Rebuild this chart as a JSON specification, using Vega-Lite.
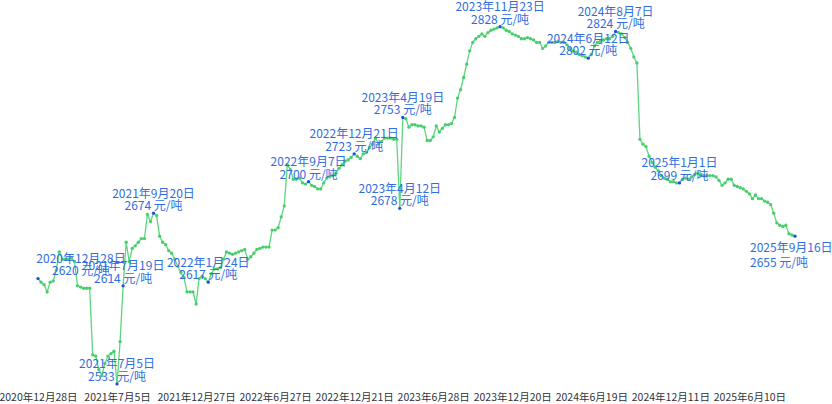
{
  "$schema": "https://vega.github.io/schema/vega-lite/v6.json",
  "width": 757,
  "height": 390,
  "autosize": {"type": "none"},
  "padding": {"left": 38, "top": 0, "right": 37, "bottom": 14},
  "background": "white",
  "config": {"view": {"stroke": null}, "font": "Noto Sans CJK SC"},
  "data": {"values": [
    {"d":"2020年12月28日","v":2620,"m":1},{"d":"2021年1月4日","v":2617},{"d":"2021年1月11日","v":2615},{"d":"2021年1月18日","v":2609},{"d":"2021年1月25日","v":2617},{"d":"2021年2月1日","v":2618},{"d":"2021年2月8日","v":2627},{"d":"2021年2月22日","v":2642},{"d":"2021年3月1日","v":2636},{"d":"2021年3月8日","v":2636},
    {"d":"2021年3月15日","v":2636},{"d":"2021年3月22日","v":2637},{"d":"2021年3月29日","v":2634},{"d":"2021年4月5日","v":2614},{"d":"2021年4月12日","v":2613},{"d":"2021年4月19日","v":2612},{"d":"2021年4月26日","v":2612},{"d":"2021年5月3日","v":2612},{"d":"2021年5月10日","v":2557},{"d":"2021年5月17日","v":2556},
    {"d":"2021年5月24日","v":2545},{"d":"2021年5月31日","v":2540},{"d":"2021年6月7日","v":2550},{"d":"2021年6月14日","v":2556},{"d":"2021年6月21日","v":2558},{"d":"2021年6月28日","v":2560},{"d":"2021年7月5日","v":2533,"m":1},{"d":"2021年7月12日","v":2568},{"d":"2021年7月19日","v":2614,"m":1},{"d":"2021年7月26日","v":2650},
    {"d":"2021年8月2日","v":2634},{"d":"2021年8月9日","v":2645},{"d":"2021年8月16日","v":2647},{"d":"2021年8月23日","v":2650},{"d":"2021年8月30日","v":2653},{"d":"2021年9月6日","v":2653},{"d":"2021年9月13日","v":2673},{"d":"2021年9月16日","v":2667},{"d":"2021年9月20日","v":2674,"m":1},{"d":"2021年9月27日","v":2672},
    {"d":"2021年10月4日","v":2655},{"d":"2021年10月11日","v":2650},{"d":"2021年10月18日","v":2648},{"d":"2021年10月25日","v":2643},{"d":"2021年11月1日","v":2641},{"d":"2021年11月8日","v":2636},{"d":"2021年11月15日","v":2630},{"d":"2021年11月22日","v":2625},{"d":"2021年11月29日","v":2621},{"d":"2021年12月6日","v":2609},
    {"d":"2021年12月13日","v":2609},{"d":"2021年12月20日","v":2609},{"d":"2021年12月27日","v":2599},{"d":"2022年1月3日","v":2620},{"d":"2022年1月10日","v":2622},{"d":"2022年1月17日","v":2620},{"d":"2022年1月24日","v":2617,"m":1},{"d":"2022年1月31日","v":2624},{"d":"2022年2月7日","v":2628},{"d":"2022年2月14日","v":2628},
    {"d":"2022年2月21日","v":2629},{"d":"2022年2月28日","v":2636},{"d":"2022年3月7日","v":2642},{"d":"2022年3月14日","v":2641},{"d":"2022年3月21日","v":2640},{"d":"2022年3月28日","v":2641},{"d":"2022年4月4日","v":2642},{"d":"2022年4月11日","v":2643},{"d":"2022年4月18日","v":2644},{"d":"2022年4月25日","v":2636},
    {"d":"2022年5月2日","v":2638},{"d":"2022年5月9日","v":2641},{"d":"2022年5月16日","v":2644},{"d":"2022年5月23日","v":2645},{"d":"2022年5月30日","v":2646},{"d":"2022年6月6日","v":2646},{"d":"2022年6月13日","v":2646},{"d":"2022年6月20日","v":2660},{"d":"2022年6月27日","v":2660},{"d":"2022年7月4日","v":2662},
    {"d":"2022年7月11日","v":2671},{"d":"2022年7月18日","v":2680},{"d":"2022年7月25日","v":2714},{"d":"2022年8月1日","v":2710},{"d":"2022年8月8日","v":2702},{"d":"2022年8月15日","v":2702},{"d":"2022年8月22日","v":2703},{"d":"2022年8月29日","v":2699},{"d":"2022年8月31日","v":2698},{"d":"2022年9月7日","v":2700,"m":1},
    {"d":"2022年9月14日","v":2697},{"d":"2022年9月21日","v":2696},{"d":"2022年9月28日","v":2694},{"d":"2022年10月5日","v":2694},{"d":"2022年10月12日","v":2699},{"d":"2022年10月19日","v":2703},{"d":"2022年10月26日","v":2704},{"d":"2022年11月2日","v":2705},{"d":"2022年11月9日","v":2707},{"d":"2022年11月16日","v":2711},
    {"d":"2022年11月23日","v":2714},{"d":"2022年11月30日","v":2717},{"d":"2022年12月7日","v":2718},{"d":"2022年12月14日","v":2720},{"d":"2022年12月21日","v":2723,"m":1},{"d":"2022年12月28日","v":2721},{"d":"2023年1月4日","v":2719},{"d":"2023年1月11日","v":2723},{"d":"2023年1月18日","v":2724},{"d":"2023年2月1日","v":2728},
    {"d":"2023年2月8日","v":2731},{"d":"2023年2月15日","v":2736},{"d":"2023年2月22日","v":2731},{"d":"2023年3月1日","v":2733},{"d":"2023年3月8日","v":2736},{"d":"2023年3月15日","v":2736},{"d":"2023年3月22日","v":2736},{"d":"2023年3月29日","v":2735},{"d":"2023年4月5日","v":2735},{"d":"2023年4月12日","v":2678,"m":1},
    {"d":"2023年4月19日","v":2753,"m":1},{"d":"2023年4月26日","v":2752},{"d":"2023年5月3日","v":2745},{"d":"2023年5月10日","v":2747},{"d":"2023年5月17日","v":2747},{"d":"2023年5月24日","v":2746},{"d":"2023年5月31日","v":2746},{"d":"2023年6月7日","v":2745},{"d":"2023年6月14日","v":2734},{"d":"2023年6月21日","v":2734},
    {"d":"2023年6月28日","v":2737},{"d":"2023年7月5日","v":2746},{"d":"2023年7月12日","v":2741},{"d":"2023年7月19日","v":2744},{"d":"2023年7月26日","v":2747},{"d":"2023年8月2日","v":2747},{"d":"2023年8月9日","v":2748},{"d":"2023年8月16日","v":2753},{"d":"2023年8月23日","v":2769},{"d":"2023年8月30日","v":2776},
    {"d":"2023年9月6日","v":2786},{"d":"2023年9月13日","v":2797},{"d":"2023年9月20日","v":2808},{"d":"2023年9月27日","v":2815},{"d":"2023年10月8日","v":2818},{"d":"2023年10月11日","v":2820},{"d":"2023年10月18日","v":2822},{"d":"2023年10月25日","v":2820},{"d":"2023年11月1日","v":2823},{"d":"2023年11月8日","v":2825},
    {"d":"2023年11月15日","v":2826},{"d":"2023年11月20日","v":2827},{"d":"2023年11月23日","v":2828,"m":1},{"d":"2023年11月29日","v":2827},{"d":"2023年12月6日","v":2825},{"d":"2023年12月13日","v":2824},{"d":"2023年12月20日","v":2822},{"d":"2023年12月27日","v":2821},{"d":"2024年1月3日","v":2820},{"d":"2024年1月10日","v":2818},
    {"d":"2024年1月17日","v":2818},{"d":"2024年1月24日","v":2819},{"d":"2024年1月31日","v":2818},{"d":"2024年2月7日","v":2817},{"d":"2024年2月14日","v":2815},{"d":"2024年2月21日","v":2815},{"d":"2024年2月28日","v":2810},{"d":"2024年3月6日","v":2812},{"d":"2024年3月13日","v":2815},{"d":"2024年3月20日","v":2815},
    {"d":"2024年3月27日","v":2815},{"d":"2024年4月3日","v":2816},{"d":"2024年4月10日","v":2815},{"d":"2024年4月17日","v":2815},{"d":"2024年4月24日","v":2813},{"d":"2024年5月1日","v":2810},{"d":"2024年5月8日","v":2808},{"d":"2024年5月15日","v":2807},{"d":"2024年5月22日","v":2805},{"d":"2024年5月29日","v":2804},
    {"d":"2024年6月5日","v":2803},{"d":"2024年6月12日","v":2802,"m":1},{"d":"2024年6月19日","v":2805},{"d":"2024年6月26日","v":2812},{"d":"2024年7月3日","v":2815},{"d":"2024年7月10日","v":2816},{"d":"2024年7月17日","v":2817},{"d":"2024年7月24日","v":2818},{"d":"2024年7月31日","v":2818},{"d":"2024年8月5日","v":2820},
    {"d":"2024年8月7日","v":2824,"m":1},{"d":"2024年8月14日","v":2823},{"d":"2024年8月21日","v":2822},{"d":"2024年8月28日","v":2819},{"d":"2024年9月4日","v":2815},{"d":"2024年9月11日","v":2810},{"d":"2024年9月18日","v":2803},{"d":"2024年9月25日","v":2798},{"d":"2024年10月2日","v":2735},{"d":"2024年10月9日","v":2731},
    {"d":"2024年10月16日","v":2729},{"d":"2024年10月23日","v":2721},{"d":"2024年10月30日","v":2716},{"d":"2024年11月6日","v":2712},{"d":"2024年11月13日","v":2709},{"d":"2024年11月20日","v":2705},{"d":"2024年11月27日","v":2703},{"d":"2024年12月4日","v":2702},{"d":"2024年12月11日","v":2700},{"d":"2024年12月18日","v":2700},
    {"d":"2024年12月25日","v":2699},{"d":"2025年1月1日","v":2699,"m":1},{"d":"2025年1月8日","v":2702},{"d":"2025年1月15日","v":2703},{"d":"2025年1月22日","v":2702},{"d":"2025年1月29日","v":2704},{"d":"2025年2月5日","v":2706},{"d":"2025年2月12日","v":2707},{"d":"2025年2月19日","v":2705},{"d":"2025年2月26日","v":2705},
    {"d":"2025年3月5日","v":2705},{"d":"2025年3月12日","v":2705},{"d":"2025年3月19日","v":2705},{"d":"2025年3月26日","v":2704},{"d":"2025年4月2日","v":2701},{"d":"2025年4月9日","v":2697},{"d":"2025年4月16日","v":2699},{"d":"2025年4月23日","v":2702},{"d":"2025年4月30日","v":2702},{"d":"2025年5月7日","v":2697},
    {"d":"2025年5月14日","v":2696},{"d":"2025年5月21日","v":2695},{"d":"2025年5月28日","v":2694},{"d":"2025年6月4日","v":2692},{"d":"2025年6月10日","v":2690},{"d":"2025年6月17日","v":2686},{"d":"2025年6月24日","v":2689},{"d":"2025年7月1日","v":2686},{"d":"2025年7月8日","v":2686},{"d":"2025年7月15日","v":2684},
    {"d":"2025年7月22日","v":2683},{"d":"2025年7月29日","v":2681},{"d":"2025年8月5日","v":2674},{"d":"2025年8月12日","v":2666},{"d":"2025年8月19日","v":2664},{"d":"2025年8月26日","v":2663},{"d":"2025年9月2日","v":2664},{"d":"2025年9月9日","v":2657},{"d":"2025年9月12日","v":2656},{"d":"2025年9月16日","v":2655,"m":1}
  ]},
  "transform": [
    {"calculate": "datum.m == 1 ? [datum.d, datum.v + ' 元/吨'] : ''", "as": "t"}
  ],
  "encoding": {
    "x": {
      "field": "d", "type": "ordinal", "sort": null,
      "scale": {"type": "point", "padding": 0},
      "axis": {
        "title": null,
        "values": ["2020年12月28日","2021年7月5日","2021年12月27日","2022年6月27日","2022年12月21日","2023年6月28日","2023年12月20日","2024年6月19日","2024年12月11日","2025年6月10日"],
        "labelAngle": 0, "ticks": false, "domain": false, "grid": false,
        "labelFontSize": 10.5, "labelColor": "#333333", "labelPadding": 2,
        "labelOverlap": false, "labelBound": false, "labelFont": "Noto Sans CJK SC"
      }
    },
    "y": {
      "field": "v", "type": "quantitative",
      "scale": {"domain": [2528, 2850], "zero": false, "nice": false},
      "axis": null
    }
  },
  "layer": [
    {"mark": {"type": "line", "color": "#5cd67f", "strokeWidth": 1.3}},
    {
      "mark": {"type": "point", "filled": true, "size": 11, "opacity": 1},
      "encoding": {
        "color": {"condition": {"test": "datum.m == 1", "value": "#1d4fe8"}, "value": "#48cf6c"}
      }
    },
    {
      "mark": {"type": "text", "align": "center", "baseline": "alphabetic", "dy": -15.5, "lineHeight": 12.5, "fontSize": 12, "color": "#2f6de0"},
      "encoding": {
        "text": {"condition": {"test": "datum.m == 1 && datum.d != '2020年12月28日' && datum.d != '2025年9月16日'", "field": "t"}, "value": ""}
      }
    },
    {
      "mark": {"type": "text", "align": "center", "baseline": "alphabetic", "dx": 43, "dy": -16, "lineHeight": 12.5, "fontSize": 12, "color": "#2f6de0"},
      "encoding": {
        "text": {"condition": {"test": "datum.d == '2020年12月28日'", "field": "t"}, "value": ""}
      }
    },
    {
      "mark": {"type": "text", "align": "left", "baseline": "alphabetic", "dx": -45, "dy": 16, "lineHeight": 15, "fontSize": 12, "color": "#2f6de0"},
      "encoding": {
        "text": {"condition": {"test": "datum.d == '2025年9月16日'", "field": "t"}, "value": ""}
      }
    }
  ]
}
